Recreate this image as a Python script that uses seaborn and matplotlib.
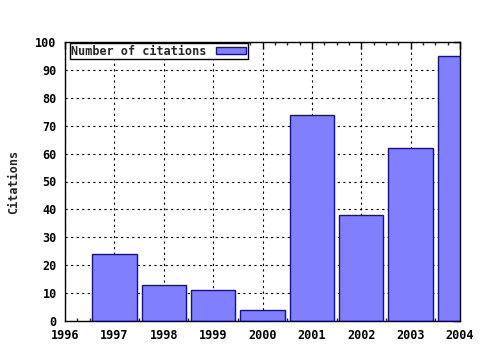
import matplotlib
matplotlib.use("Agg")
import matplotlib.pyplot as plt
import seaborn as sns
import pandas as pd
from matplotlib.ticker import MultipleLocator, FuncFormatter
from matplotlib.patches import Patch

years = [1997, 1998, 1999, 2000, 2001, 2002, 2003, 2004]
citations = [24, 13, 11, 4, 74, 38, 62, 95]
series_label = "Number of citations"
y_label = "Citations"

df = pd.DataFrame({"year": years, "citations": citations})

sns.set_style("white")
plt.rcParams['font.family'] = ['DejaVu Sans Mono']
plt.rcParams['font.weight'] = 'bold'

fig = plt.figure(figsize=(4.8, 3.5), dpi=100)
ax = fig.add_axes([65/480, 1-321/350, (460-65)/480, (321-42)/350])

fill = '#8080ff'
edge = '#101090'
sns.barplot(data=df, x="year", y="citations", native_scale=True, width=0.9,
            color=fill, saturation=1, edgecolor=edge, linewidth=1.0, ax=ax)

ax.set_xlim(1996, 2004)
ax.set_ylim(0, 100)
ax.xaxis.set_major_locator(MultipleLocator(1))
ax.xaxis.set_minor_locator(MultipleLocator(0.25))
ax.yaxis.set_major_locator(MultipleLocator(10))
ax.xaxis.set_major_formatter(FuncFormatter(lambda v, p: f"{int(round(v))}"))

ax.tick_params(axis='both', which='major', direction='in', length=5, width=1,
               top=True, right=True, labelsize=8.5, colors='black', pad=6)
ax.tick_params(axis='x', which='minor', direction='in', length=2.5, width=1,
               top=True, bottom=True)
for lab in ax.get_xticklabels() + ax.get_yticklabels():
    lab.set_fontweight('bold')

ax.grid(True, which='major', color='black', linestyle=(0, (2, 3)), linewidth=0.8)
ax.set_axisbelow(True)
for s in ax.spines.values():
    s.set_color('black')
    s.set_linewidth(1)

ax.set_xlabel("")
ax.set_ylabel(y_label, fontsize=8.5, fontweight='bold', labelpad=11)

leg = ax.legend(handles=[Patch(facecolor=fill, edgecolor=edge, linewidth=1.0, label=series_label)],
                loc='upper left', bbox_to_anchor=(0.012, 0.995), markerfirst=False,
                frameon=True, fancybox=False, framealpha=1, edgecolor='black',
                prop={'family': 'DejaVu Sans Mono', 'weight': 'bold', 'size': 8.5},
                borderpad=0.1, handlelength=2.6, handleheight=0.6, handletextpad=0.8,
                borderaxespad=0)
leg.get_frame().set_linewidth(1)

fig.savefig("out.png", dpi=100)
